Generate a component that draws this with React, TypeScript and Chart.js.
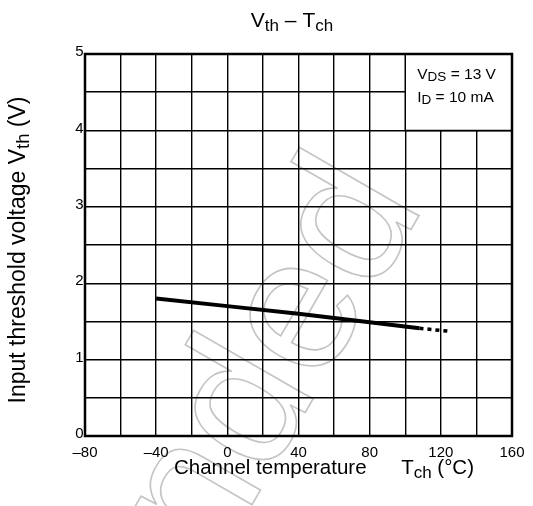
import React, { useEffect, useRef } from 'react';
import { Chart, registerables } from 'chart.js';

Chart.register(...registerables);

const solidT = [-40, 0, 40, 80, 108];
const solidV = [1.8, 1.7, 1.6, 1.49, 1.41];
const dottedT = [108, 125];
const dottedV = [1.41, 1.37];
const xMin = -80;
const xMax = 160;
const yMin = 0;
const yMax = 5;

const FONT = '"Liberation Sans", Arial, Helvetica, sans-serif';

type Part = { t: string; sub?: boolean };

function drawRich(ctx: CanvasRenderingContext2D, parts: Part[], x: number, y: number, size: number, subSize: number, subDy: number, align: 'left' | 'center' | 'right') {
  const widths = parts.map((p) => {
    ctx.font = `${p.sub ? subSize : size}px ${FONT}`;
    return ctx.measureText(p.t).width;
  });
  const total = widths.reduce((a, b) => a + b, 0);
  let cx = align === 'left' ? x : align === 'center' ? x - total / 2 : x - total;
  ctx.textAlign = 'left';
  ctx.textBaseline = 'alphabetic';
  parts.forEach((p, i) => {
    ctx.font = `${p.sub ? subSize : size}px ${FONT}`;
    ctx.fillText(p.t, cx, y + (p.sub ? subDy : 0));
    cx += widths[i];
  });
}

const decor = {
  id: 'decor',
  beforeDraw(chart: any) {
    const ctx = chart.ctx as CanvasRenderingContext2D;
    ctx.save();
    ctx.fillStyle = '#fff';
    ctx.fillRect(0, 0, chart.width, chart.height);
    // watermark
    ctx.translate(425, 205);
    ctx.rotate((-60 * Math.PI) / 180);
    ctx.font = `190px ${FONT}`;
    ctx.textAlign = 'right';
    ctx.textBaseline = 'alphabetic';
    ctx.strokeStyle = '#c4c4c4';
    ctx.lineWidth = 1.6;
    ctx.strokeText('recommended', 0, 0);
    ctx.restore();
  },
  afterDatasetsDraw(chart: any) {
    const ctx = chart.ctx as CanvasRenderingContext2D;
    const xs = chart.scales.x;
    const ys = chart.scales.y;
    const ca = chart.chartArea;
    ctx.save();
    // condition box
    const bx0 = xs.getPixelForValue(100);
    const bx1 = xs.getPixelForValue(160);
    const by0 = ys.getPixelForValue(5);
    const by1 = ys.getPixelForValue(4);
    ctx.fillStyle = '#fff';
    ctx.fillRect(bx0, by0, bx1 - bx0, by1 - by0);
    ctx.strokeStyle = '#000';
    ctx.lineWidth = 1.5;
    ctx.beginPath();
    ctx.moveTo(bx0, by0);
    ctx.lineTo(bx0, by1);
    ctx.lineTo(bx1, by1);
    ctx.stroke();
    ctx.fillStyle = '#000';
    drawRich(ctx, [{ t: 'V' }, { t: 'DS', sub: true }, { t: ' = 13 V' }], bx0 + 12, by0 + 25, 15.5, 13.5, 2, 'left');
    drawRich(ctx, [{ t: 'I' }, { t: 'D', sub: true }, { t: ' = 10 mA' }], bx0 + 12, by0 + 48, 15.5, 13.5, 2, 'left');
    // frame
    ctx.lineWidth = 2.5;
    ctx.strokeRect(ca.left, ca.top, ca.right - ca.left, ca.bottom - ca.top);
    // title
    drawRich(ctx, [{ t: 'V' }, { t: 'th', sub: true }, { t: ' \u2013 T' }, { t: 'ch', sub: true }], 292, 27, 21, 17, 4, 'center');
    // x title
    drawRich(ctx, [{ t: 'Channel temperature' }], 174, 474, 20.5, 16.5, 4, 'left');
    drawRich(ctx, [{ t: 'T' }, { t: 'ch', sub: true }, { t: ' (\u00B0C)' }], 474, 474, 20.5, 17, 4, 'right');
    // y title
    ctx.translate(25, 250);
    ctx.rotate(-Math.PI / 2);
    drawRich(ctx, [{ t: 'Input threshold voltage V' }, { t: 'th', sub: true }, { t: ' (V)' }], 0, 0, 23, 18.5, 4, 'center');
    ctx.restore();
  },
};

export default function App() {
  const ref = useRef<HTMLCanvasElement>(null);
  useEffect(() => {
    if (!ref.current) return;
    const chart = new Chart(ref.current, {
      type: 'line',
      data: {
        datasets: [
          {
            data: solidT.map((t, i) => ({ x: t, y: solidV[i] })),
            borderColor: '#000',
            borderWidth: 4,
            pointRadius: 0,
            tension: 0,
          },
          {
            data: dottedT.map((t, i) => ({ x: t, y: dottedV[i] })),
            borderColor: '#000',
            borderWidth: 3.5,
            borderDash: [4, 4],
            pointRadius: 0,
            tension: 0,
          },
        ],
      },
      options: {
        animation: false,
        responsive: false,
        layout: { padding: { left: 0, right: 21, top: 54, bottom: 0 } },
        plugins: { legend: { display: false }, tooltip: { enabled: false }, title: { display: false } },
        scales: {
          x: {
            type: 'linear',
            min: xMin,
            max: xMax,
            afterFit: (s: any) => { s.height = 70; },
            border: { display: false },
            grid: { color: '#000', lineWidth: 1.4, drawTicks: false },
            ticks: {
              stepSize: 20,
              autoSkip: false,
              maxRotation: 0,
              padding: 8,
              color: '#000',
              font: { family: FONT, size: 15 },
              callback: (v: any) => (Number(v) % 40 === 0 ? (Number(v) < 0 ? '\u2013' + -Number(v) : String(v)) : ''),
            },
          },
          y: {
            type: 'linear',
            min: yMin,
            max: yMax,
            afterFit: (s: any) => { s.width = 85; },
            border: { display: false },
            grid: { color: '#000', lineWidth: 1.4, drawTicks: false },
            ticks: {
              stepSize: 0.5,
              autoSkip: false,
              padding: 1.5,
              labelOffset: -2,
              color: '#000',
              font: { family: FONT, size: 15 },
              callback: (v: any) => (Number.isInteger(Number(v)) ? String(v) : ''),
            },
          },
        },
      },
      plugins: [decor],
    });
    return () => chart.destroy();
  }, []);
  return (
    <div style={{ position: 'fixed', left: 0, top: 0, width: 533, height: 506 }}>
      <canvas ref={ref} width={533} height={506} style={{ width: 533, height: 506, display: 'block' }} />
    </div>
  );
}
